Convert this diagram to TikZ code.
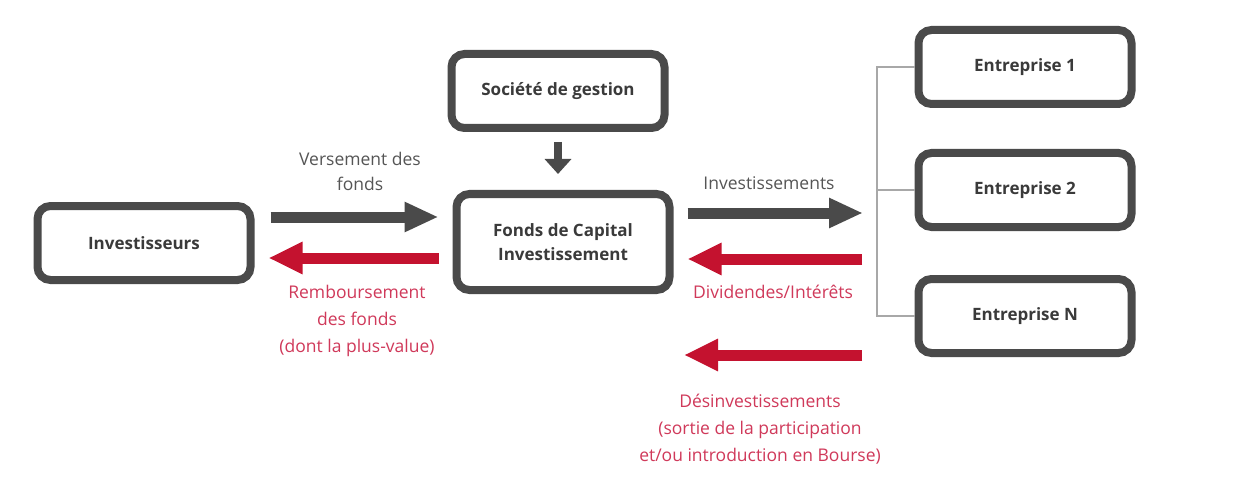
\documentclass[tikz,border=0pt]{standalone}
\usepackage{fontspec}
\setmainfont{Open Sans}
\usetikzlibrary{arrows.meta}
\definecolor{boxgray}{HTML}{4A4A4A}
\definecolor{txtgray}{HTML}{3A3A3A}
\definecolor{lblgray}{HTML}{555555}
\definecolor{arrred}{HTML}{C4122F}
\definecolor{lblred}{HTML}{D0395A}
\definecolor{brkgray}{HTML}{A8A8A8}
\tikzset{
  boxnode/.style={draw=boxgray, line width=8pt, rounded corners=13pt, fill=white,
    minimum width=213pt, minimum height=74pt, inner sep=2pt, align=center,
    text=txtgray, font=\fontsize{17}{24}\selectfont\bfseries},
  grayarr/.style={draw=boxgray, line width=11pt, -{Triangle[length=34pt,width=28pt]}},
  redarr/.style={draw=arrred, line width=11pt, -{Triangle[length=34pt,width=30pt]}},
  downarr/.style={draw=boxgray, line width=8pt, -{Triangle[length=15pt,width=26pt]}},
  graylbl/.style={text=lblgray, align=center, font=\fontsize{17.5}{25}\selectfont},
  redlbl/.style={text=lblred, align=center, font=\fontsize{17.5}{27}\selectfont},
  bracket/.style={draw=brkgray, line width=1.3pt}
}
\begin{document}
\begin{tikzpicture}[x=1pt,y=-1pt]
\useasboundingbox (0,0) rectangle (1241,481);
\fill[white] (0,0) rectangle (1241,481);
% boxes
\node[boxnode] (inv) at (144,243) {Investisseurs};
\node[boxnode] (soc) at (558,91) {Société de gestion};
\node[boxnode, minimum height=96pt] (fonds) at (563,242) {Fonds de Capital\\Investissement};
\node[boxnode] (e1) at (1025,67) {Entreprise 1};
\node[boxnode] (e2) at (1025,190) {Entreprise 2};
\node[boxnode] (en) at (1025,316) {Entreprise N};
% bracket
\coordinate (bk) at (877,0);
\draw[bracket] (e1.west) -- (e1.west -| bk) -- (en.west -| bk) -- (en.west);
\draw[bracket] (e2.west) -- (e2.west -| bk);
% arrow rows
\coordinate (rowA) at (0,217);
\coordinate (rowB) at (0,258);
\coordinate (rowI) at (0,213);
\coordinate (rowD) at (0,259);
% arrows investors <-> fund
\draw[grayarr] ([xshift=16pt]inv.east |- rowA) -- ([xshift=-14pt]fonds.west |- rowA);
\draw[redarr] ([xshift=-14pt]fonds.west |- rowB) -- ([xshift=14pt]inv.east |- rowB);
% management -> fund
\draw[downarr] ([shift={(0,10)}]soc.south) -- ([shift={(0,-16)}]soc.south |- fonds.north);
% fund <-> companies
\coordinate (invR) at (863,213);
\coordinate (divR) at (862,259);
\coordinate (desR) at (862,355);
\coordinate (desL) at (684,355);
\draw[grayarr] ([xshift=14pt]fonds.east |- invR) -- (invR);
\draw[redarr] (divR) -- ([xshift=14pt]fonds.east |- divR);
\draw[redarr] (desR) -- (desL);
% labels
\node[graylbl] (lv) at (360,171) {Versement des\\fonds};
\node[redlbl] (lr) at (357,321) {Remboursement\\des fonds\\(dont la plus-value)};
\node[graylbl] (li) at (769,183) {Investissements};
\node[redlbl] (ld) at (773,292) {Dividendes/Intérêts};
\node[redlbl] (lds) at (760,429) {Désinvestissements\\(sortie de la participation\\et/ou introduction en Bourse)};
\end{tikzpicture}
\end{document}
